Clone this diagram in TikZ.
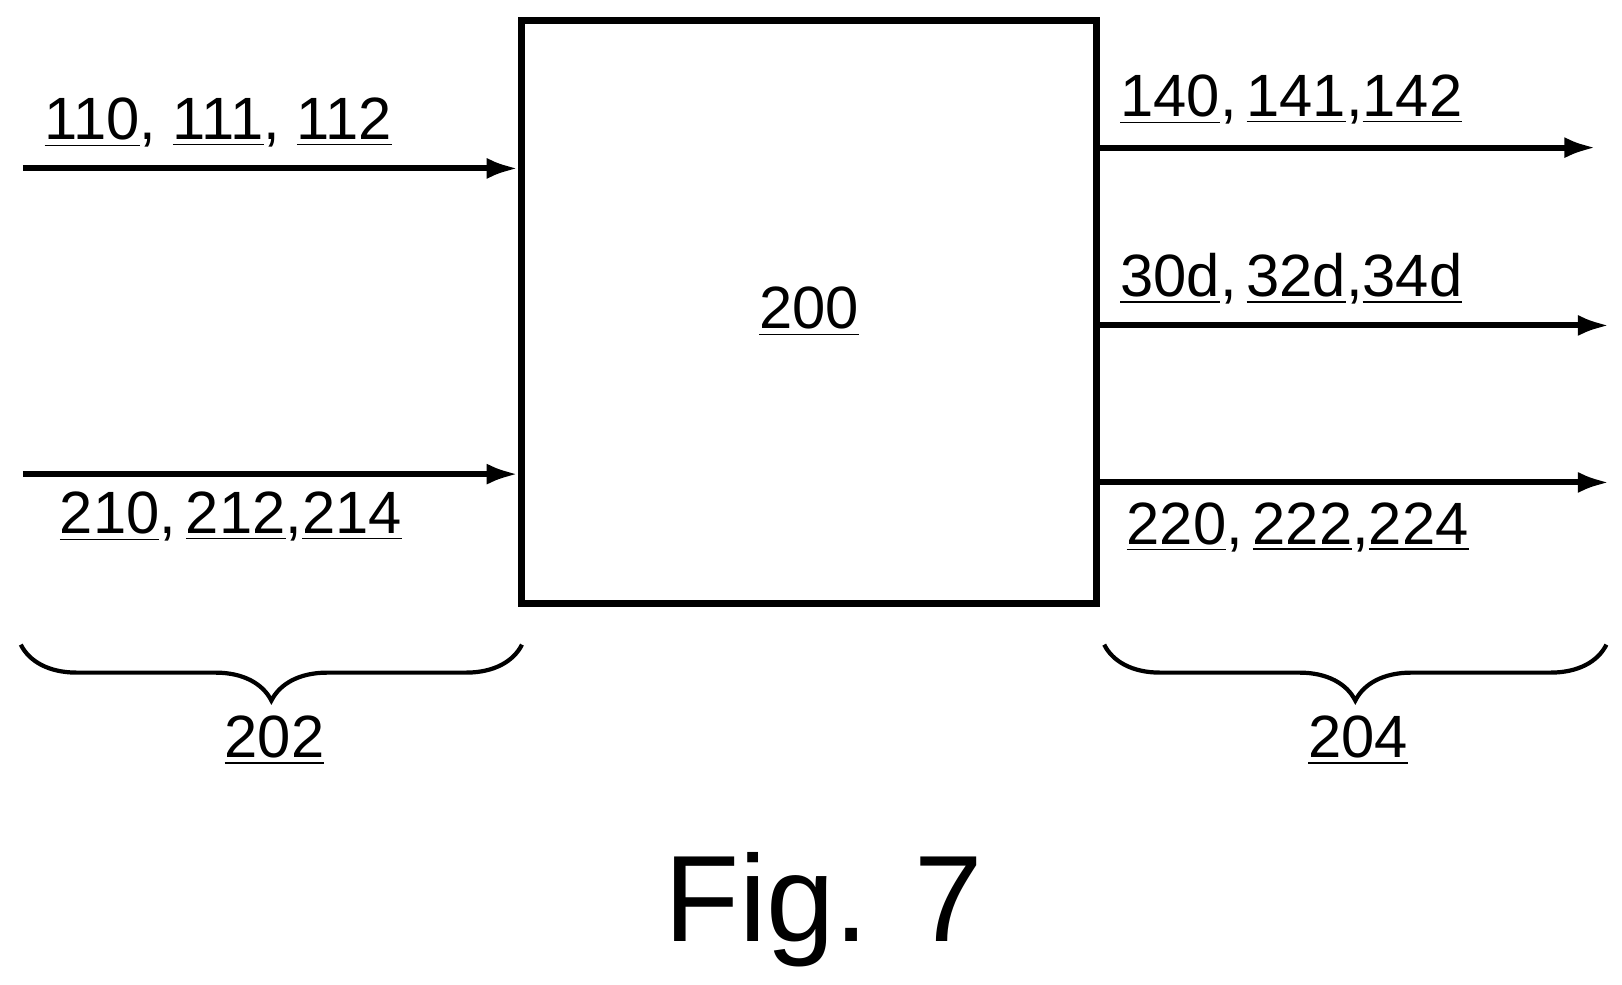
\documentclass[tikz,border=0pt]{standalone}
\usepackage{fontspec}
\setmainfont{Liberation Sans}
\usetikzlibrary{decorations.pathreplacing,arrows.meta}
\begin{document}
\begin{tikzpicture}[x=0.0104cm,y=-0.0104cm,line width=1.7pt,>=latex]
    \tikzstyle{lbl}=[inner sep=0pt,font=\fontsize{17}{19}\selectfont]
    \tikzstyle{flow}=[-{Latex[length=9pt,width=6pt]}]
    \tikzstyle{brc}=[decorate,decoration={brace,mirror,amplitude=0.56cm},line width=1.2pt]
    \useasboundingbox (0,0) rectangle (1560,947);

    % central block
    \node[draw,minimum width=5.75cm,minimum height=5.83cm,inner sep=0pt,line width=1.9pt] (B) at (778,300) {};
    \node[lbl] (B-t) at (778,300) {\underline{200}};

    % inputs
    \coordinate (I-1) at (22,162);
    \coordinate (I-2) at (22,456);
    \draw[flow] (I-1) -- (I-1 -| B.west);
    \draw[flow] (I-2) -- (I-2 -| B.west);
    \node[lbl] (I-1t) at (210,118) {\underline{110}, \underline{111}, \underline{112}};
    \node[lbl] (I-2t) at (222,497) {\underline{210},\,\underline{212},\underline{214}};

    % outputs
    \coordinate (O-1) at (1535,142);
    \coordinate (O-2) at (1548,313);
    \coordinate (O-3) at (1548,464);
    \foreach \o in {1,2,3}
    \draw[flow] (O-\o -| B.east) -- (O-\o);
    \node[lbl] (O-1t) at (1242,96) {\underline{140},\,\underline{141},\underline{142}};
    \node[lbl] (O-2t) at (1242,268) {\underline{30d},\,\underline{32d},\underline{34d}};
    \node[lbl] (O-3t) at (1248,507) {\underline{220},\,\underline{222},\underline{224}};

    % groups
    \coordinate (L-a) at (20,620);
    \coordinate (L-b) at (502,620);
    \coordinate (R-a) at (1062,620);
    \coordinate (R-b) at (1545,620);
    \draw[brc] (L-a) -- (L-b);
    \draw[brc] (R-a) -- (R-b);
    \node[lbl] (G-1) at (264,712) {\underline{202}};
    \node[lbl] (G-2) at (1306,712) {\underline{204}};

    \node[inner sep=0pt,font=\fontsize{35}{38}\selectfont] (F) at (792,875) {Fig. 7};
\end{tikzpicture}
\end{document}
